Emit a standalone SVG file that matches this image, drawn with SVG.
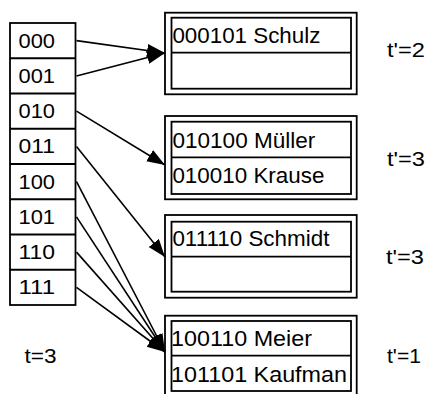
<svg xmlns="http://www.w3.org/2000/svg" width="428" height="394" viewBox="0 0 428 394">
<style>
text{font-family:"Liberation Sans",Arial,sans-serif;fill:#000}
.lbl{font-size:21px}
.rec{font-size:22px}
.box{fill:#fff;stroke:#000;stroke-width:1.8}
.ln{fill:none;stroke:#000;stroke-width:1.8}
.con{fill:none;stroke:#000;stroke-width:1.6;marker-end:url(#ah)}
</style>
<defs>
<marker id="ah" markerUnits="userSpaceOnUse" markerWidth="19" markerHeight="14" refX="18" refY="6.5" orient="auto">
<path d="M0,0 L18,6.5 L0,13 z" fill="#000"/>
</marker>
</defs>
<rect width="428" height="394" fill="#fff"/>
<g id="directory">
<rect class="box" x="10" y="23" width="65.5" height="282"/>
<path class="ln" d="M10,58.25H75.5M10,93.5H75.5M10,128.75H75.5M10,164H75.5M10,199.25H75.5M10,234.5H75.5M10,269.75H75.5"/>
<text class="lbl" x="18.5" y="47.5" textLength="36.5" lengthAdjust="spacingAndGlyphs">000</text>
<text class="lbl" x="18.5" y="82.7" textLength="36.5" lengthAdjust="spacingAndGlyphs">001</text>
<text class="lbl" x="18.5" y="118" textLength="36.5" lengthAdjust="spacingAndGlyphs">010</text>
<text class="lbl" x="18.5" y="153.2" textLength="36.5" lengthAdjust="spacingAndGlyphs">011</text>
<text class="lbl" x="18.5" y="188.5" textLength="36.5" lengthAdjust="spacingAndGlyphs">100</text>
<text class="lbl" x="18.5" y="223.7" textLength="36.5" lengthAdjust="spacingAndGlyphs">101</text>
<text class="lbl" x="18.5" y="259" textLength="36.5" lengthAdjust="spacingAndGlyphs">110</text>
<text class="lbl" x="18.5" y="294.2" textLength="36.5" lengthAdjust="spacingAndGlyphs">111</text>
</g>
<g id="bucket1">
<rect class="box" x="165" y="12.7" width="191.7" height="81.6"/>
<rect class="box" x="171.5" y="17.7" width="179.5" height="71"/>
<path class="ln" d="M171.5,52.7H351"/>
<text class="rec" x="172.4" y="42.5" textLength="148" lengthAdjust="spacingAndGlyphs">000101 Schulz</text>
</g>
<g id="bucket2">
<rect class="box" x="165" y="116" width="191.7" height="83.3"/>
<rect class="box" x="171.5" y="121.7" width="179.5" height="72.3"/>
<path class="ln" d="M171.5,157.3H351"/>
<text class="rec" x="172.4" y="147.5" textLength="143" lengthAdjust="spacingAndGlyphs">010100 Müller</text>
<text class="rec" x="172.4" y="182.5" textLength="152" lengthAdjust="spacingAndGlyphs">010010 Krause</text>
</g>
<g id="bucket3">
<rect class="box" x="165" y="215" width="191.7" height="82.7"/>
<rect class="box" x="171.5" y="221.7" width="179.5" height="70"/>
<path class="ln" d="M171.5,256.7H351"/>
<text class="rec" x="172.4" y="246" textLength="157" lengthAdjust="spacingAndGlyphs">011110 Schmidt</text>
</g>
<g id="bucket4">
<rect class="box" x="165" y="315.7" width="191.7" height="84"/>
<rect class="box" x="171.5" y="321" width="179.5" height="70"/>
<path class="ln" d="M171.5,355.7H351"/>
<text class="rec" x="171" y="345.5" textLength="141" lengthAdjust="spacingAndGlyphs">100110 Meier</text>
<text class="rec" x="171" y="381.5" textLength="176" lengthAdjust="spacingAndGlyphs">101101 Kaufman</text>
</g>
<g id="labels">
<text class="lbl" x="387" y="57" textLength="38" lengthAdjust="spacingAndGlyphs">t'=2</text>
<text class="lbl" x="387" y="166" textLength="38" lengthAdjust="spacingAndGlyphs">t'=3</text>
<text class="lbl" x="386" y="264" textLength="38" lengthAdjust="spacingAndGlyphs">t'=3</text>
<text class="lbl" x="387" y="363" textLength="34" lengthAdjust="spacingAndGlyphs">t'=1</text>
<text class="lbl" x="24.5" y="363" textLength="32" lengthAdjust="spacingAndGlyphs">t=3</text>
</g>
<g id="connectors">
<line class="con" x1="76.5" y1="40.6" x2="165" y2="53"/>
<line class="con" x1="76.5" y1="75.9" x2="165" y2="53"/>
<line class="con" x1="76.5" y1="111.1" x2="165" y2="165"/>
<line class="con" x1="76.5" y1="146.4" x2="165" y2="257"/>
<line class="con" x1="76.5" y1="181.6" x2="165" y2="352"/>
<line class="con" x1="76.5" y1="216.9" x2="165" y2="352"/>
<line class="con" x1="76.5" y1="252.1" x2="165" y2="352"/>
<line class="con" x1="76.5" y1="287.4" x2="165" y2="352"/>
</g>
</svg>
